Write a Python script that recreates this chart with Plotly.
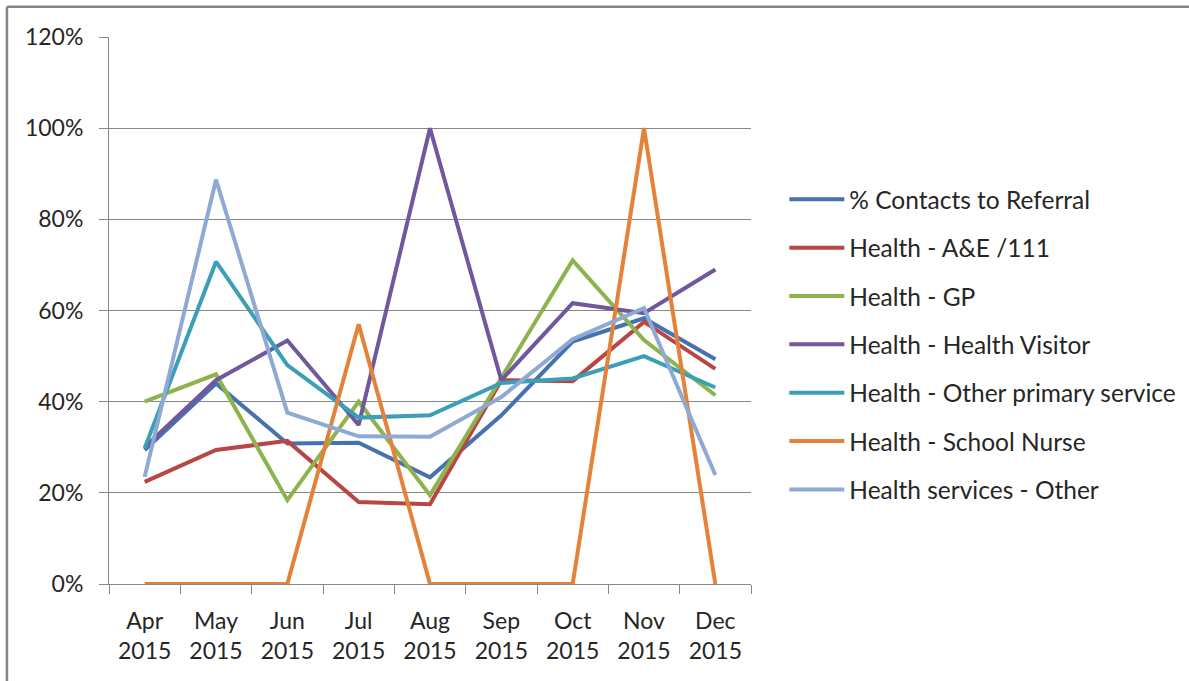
import plotly.graph_objects as go

months = ["Apr<br>2015", "May<br>2015", "Jun<br>2015", "Jul<br>2015", "Aug<br>2015",
          "Sep<br>2015", "Oct<br>2015", "Nov<br>2015", "Dec<br>2015"]

contacts_to_referral = [0.294, 0.44, 0.308, 0.31, 0.234, 0.37, 0.532, 0.583, 0.493]
health_ae_111 = [0.224, 0.294, 0.314, 0.18, 0.175, 0.447, 0.445, 0.575, 0.472]
health_gp = [0.40, 0.46, 0.184, 0.40, 0.195, 0.452, 0.71, 0.535, 0.414]
health_visitor = [0.30, 0.447, 0.534, 0.349, 1.00, 0.447, 0.616, 0.594, 0.69]
health_other_primary = [0.298, 0.707, 0.48, 0.365, 0.37, 0.441, 0.451, 0.50, 0.431]
health_school_nurse = [0.0, 0.0, 0.0, 0.57, 0.0, 0.0, 0.0, 1.00, 0.0]
health_services_other = [0.235, 0.887, 0.376, 0.324, 0.323, 0.41, 0.537, 0.605, 0.239]

series_names = ["% Contacts to Referral", "Health - A&E /111", "Health - GP",
                "Health - Health Visitor", "Health - Other primary service",
                "Health - School Nurse", "Health services - Other"]
series_values = [contacts_to_referral, health_ae_111, health_gp, health_visitor,
                 health_other_primary, health_school_nurse, health_services_other]
colors = ["#4672B0", "#B84644", "#8DB44C", "#71579B", "#3B9FB7", "#E5823A", "#8EA9D3"]

y_ticks = [0, 0.2, 0.4, 0.6, 0.8, 1.0, 1.2]

FONT = "Lato"
fig = go.Figure()
for i, (name, vals, col) in enumerate(zip(series_names, series_values, colors)):
    fig.add_trace(go.Scatter(x=months, y=vals, name=name, mode="lines",
                             line=dict(color=col, width=4),
                             legendgroup=f"g{i}"))

W, H = 1189, 681
L, R, T, B = 109, 1189 - 750.7, 37.3, 681 - 583.7
pw = W - L - R
ph = H - T - B

fig.update_layout(
    width=W, height=H,
    margin=dict(l=L, r=R, t=T, b=B, autoexpand=False),
    paper_bgcolor="white", plot_bgcolor="white",
    font=dict(family=FONT, size=23, color="#262626"),
    showlegend=True,
    legend=dict(x=(784 - L) / pw, xanchor="left",
                y=(583.7 - 177) / ph, yanchor="top",
                font=dict(family=FONT, size=24.5, color="#262626"),
                tracegroupgap=13.5, bgcolor="rgba(0,0,0,0)", itemwidth=55),
    xaxis=dict(showgrid=False, showline=True, linecolor="#878787", linewidth=1,
               ticks="outside", ticklen=9, tickcolor="#878787",
               tickson="boundaries", ticklabelstandoff=16,
               tickfont=dict(family=FONT, size=23, color="#262626"),
               range=[-0.5, 8.5], fixedrange=True),
    yaxis=dict(range=[0, 1.2], tickvals=y_ticks, tickformat=".0%",
               showgrid=True, gridcolor="#878787", gridwidth=1,
               showline=True, linecolor="#878787", linewidth=1,
               ticks="outside", ticklen=9, tickcolor="#878787",
               ticklabelstandoff=11, zeroline=False, fixedrange=True,
               tickfont=dict(family=FONT, size=23, color="#262626")),
    shapes=[
        dict(type="line", xref="paper", yref="paper",
             x0=(7 - L) / pw, x1=(W - L) / pw, y0=(583.7 - 7) / ph, y1=(583.7 - 7) / ph,
             line=dict(color="#868686", width=2.5)),
        dict(type="line", xref="paper", yref="paper",
             x0=(7 - L) / pw, x1=(7 - L) / pw, y0=(583.7 - 7) / ph, y1=(583.7 - H) / ph,
             line=dict(color="#868686", width=2.5)),
    ],
)

fig.write_html("out.html", config={"displayModeBar": False},
               post_script="document.body.style.margin='0';document.body.style.overflow='hidden';")
